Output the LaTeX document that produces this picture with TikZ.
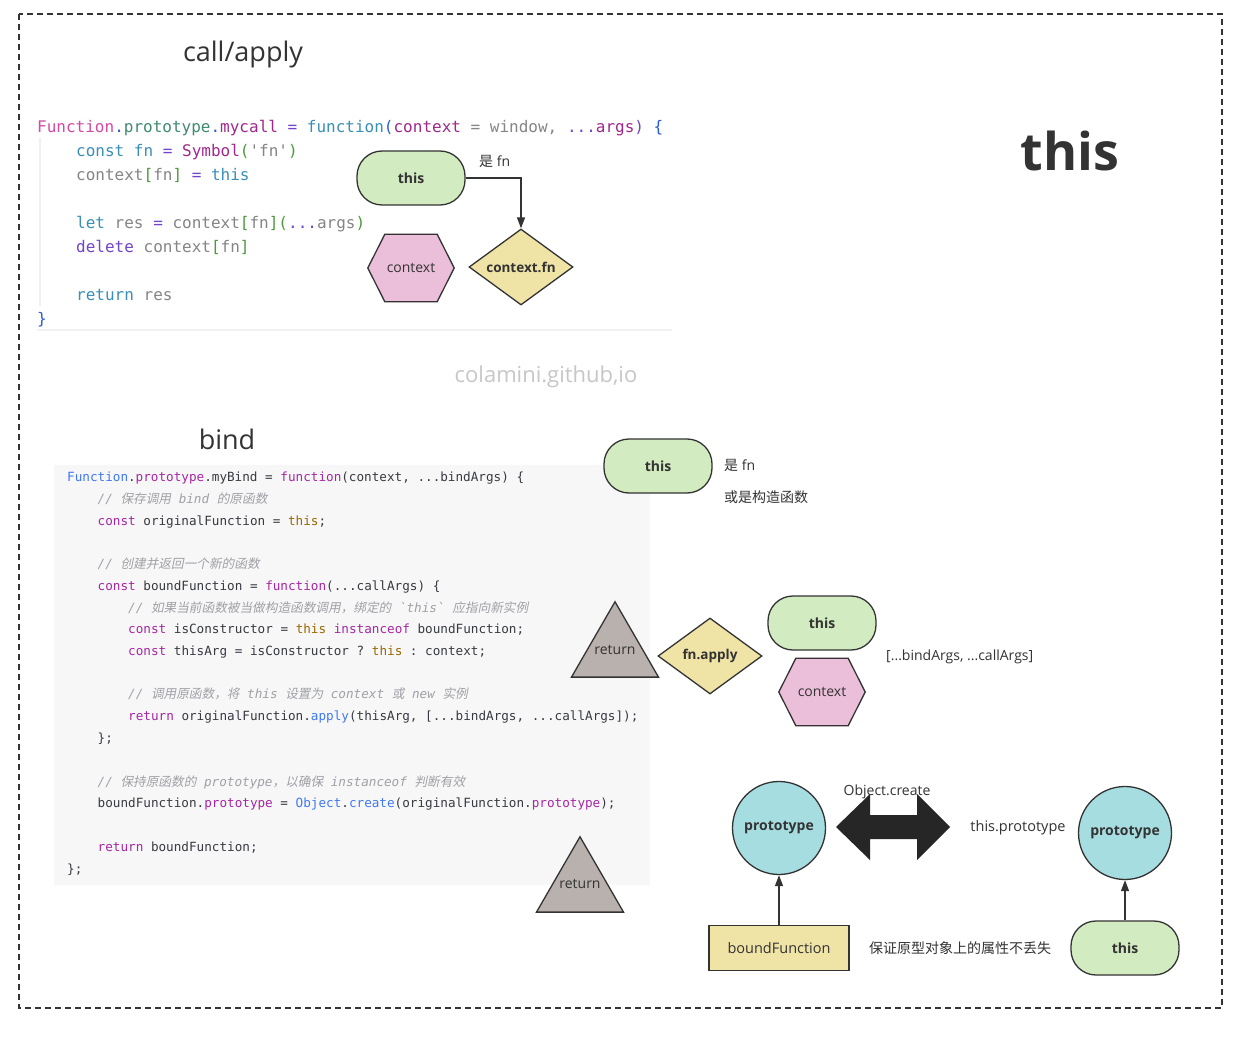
\documentclass[tikz,border=0pt]{standalone}
\usepackage{fontspec}
\setmainfont{Open Sans}
\setmonofont{DejaVu Sans Mono}
\newfontfamily\cjk{Noto Sans CJK SC}
\newfontfamily\cjkit{Noto Sans CJK SC}[FakeSlant=0.2]
\newcommand\semi{\bfseries}
\usetikzlibrary{arrows.meta,shapes.geometric,backgrounds}
\definecolor{dk}{HTML}{333333}
\definecolor{gfill}{HTML}{D3EBC0}
\definecolor{yfill}{HTML}{F0E3A6}
\definecolor{pfill}{HTML}{EBBFDA}
\definecolor{tfill}{HTML}{B9B1AD}
\definecolor{cfill}{HTML}{A6DDE0}
% code 1 colours
\definecolor{pk}{HTML}{D14BA4}
\definecolor{bl}{HTML}{2A5BD7}
\definecolor{gn}{HTML}{3F8A72}
\definecolor{mg}{HTML}{A0288C}
\definecolor{pu}{HTML}{7045C8}
\definecolor{tl}{HTML}{3A8FB7}
\definecolor{gy}{HTML}{858585}
\definecolor{br}{HTML}{4C9A3C}
% code 2 colours (one light)
\definecolor{ob}{HTML}{4078F2}
\definecolor{op}{HTML}{A626A4}
\definecolor{oy}{HTML}{986801}
\definecolor{od}{HTML}{383A42}
\definecolor{cm}{HTML}{A0A1A7}
\newcommand\fsz[1]{\fontsize{#1}{#1}\selectfont}
\newcommand\C[2]{\textcolor{#1}{#2}}
\newcommand\zh[1]{{\cjkit #1}}
\tikzset{
  x=1pt, y=-1pt,
  codeA/.style={anchor=base west, inner sep=0pt, font=\ttfamily\fsz{16}},
  codeB/.style={anchor=base west, inner sep=0pt, font=\ttfamily\fsz{12.65}, text=od},
  cmt/.style={codeB, text=cm, font=\ttfamily\itshape\fsz{12.65}},
  lbl/.style={inner sep=0pt, text=dk, font=\fsz{14}},
  stad/.style={draw=dk, line width=1.3pt, fill=gfill, rounded corners=25pt,
    minimum width=108pt, minimum height=54pt, inner sep=0pt, text=dk, font=\semi\fsz{14}},
  dia/.style={diamond, aspect=1.37, draw=dk, line width=1.3pt, fill=yfill,
    minimum width=104pt, minimum height=76pt, inner sep=0pt, text=dk, font=\semi\fsz{13.5}},
  hexn/.style={minimum width=86pt, minimum height=67pt, inner sep=0pt, text=dk, font=\fsz{14}},
  hexs/.style={draw=dk, line width=1.3pt, fill=pfill},
  tri/.style={regular polygon, regular polygon sides=3, draw=dk, line width=1.3pt, fill=tfill,
    minimum size=100.5pt, inner sep=0pt, text=dk, font=\fsz{14}},
  circ/.style={circle, draw=dk, line width=1.3pt, fill=cfill, minimum size=93pt,
    inner sep=0pt, text=dk, font=\semi\fsz{14}},
  conn/.style={draw=dk, line width=1.3pt, -{Triangle[length=11pt,width=8pt]}},
}
\newcommand\hexa[1]{%
  \begin{scope}[on background layer]
    \filldraw[hexs] (#1.west) -- ([xshift=17pt]#1.north west) -- ([xshift=-17pt]#1.north east)
      -- (#1.east) -- ([xshift=-17pt]#1.south east) -- ([xshift=17pt]#1.south west) -- cycle;
  \end{scope}}
\begin{document}
\begin{tikzpicture}
\useasboundingbox (0,0) rectangle (1244,1040);
\begin{scope}[on background layer]
\fill[white] (0,0) rectangle (1244,1040);
\fill[black!3] (54,465) rectangle (650,885);
\end{scope}
% frame
\draw[draw=dk, line width=1.3pt, dash pattern=on 6pt off 4pt] (19,14) rectangle (1222,1008);

% titles
\node[lbl, font=\fsz{27}] (tcall) at (243,54) {call/apply};
\node[lbl, font=\semi\fsz{52}] (tthis) at (1070,151) {this};
\node[lbl, font=\fsz{27}] (tbind) at (227,439) {bind};
\node[lbl, text=black!22, font=\fsz{22}] (wm) at (546,377) {colamini.github,io};

% ---------- code 1 ----------
\draw[draw=black!6, line width=1.2pt] (40,138) -- (40,306);
\draw[draw=black!5, line width=1.5pt] (37,330) -- (672,330);
\node[codeA] (a1) at (37,133) {\C{pk}{Function}\C{bl}{.}\C{gn}{prototype}\C{bl}{.}\C{mg}{mycall} \C{pu}{=} \C{tl}{function}\C{bl}{(}\C{mg}{context} \C{gy}{= window,} \C{pu}{...}\C{mg}{args}\C{pu}{)} \C{bl}{\{}};
\node[codeA] (a2) at (76,157) {\C{tl}{const} \C{tl}{fn} \C{pu}{=} \C{mg}{Symbol}\C{br}{(}\C{gy}{'fn'}\C{br}{)}};
\node[codeA] (a3) at (76,181) {\C{gy}{context}\C{br}{[}\C{gy}{fn}\C{br}{]} \C{pu}{=} \C{tl}{this}};
\node[codeA] (a4) at (76,229) {\C{tl}{let} \C{gy}{res} \C{pu}{=} \C{gy}{context}\C{br}{[}\C{gy}{fn}\C{br}{](}\C{pu}{...}\C{gy}{args}\C{br}{)}};
\node[codeA] (a5) at (76,253) {\C{pu}{delete} \C{gy}{context}\C{br}{[}\C{gy}{fn}\C{br}{]}};
\node[codeA] (a6) at (76,301) {\C{tl}{return} \C{gy}{res}};
\node[codeA] (a7) at (37,324) {\C{bl}{\}}};

% ---------- diagram 1 ----------
\node[stad] (th1) at (411,178) {this};
\node[dia] (cfn) at (521,267) {context.fn};
\node[hexn] (ctx1) at (411,268) {context};
\hexa{ctx1}
\draw[conn] (th1.east) -| (cfn.north);
\node[lbl, anchor=west] (isfn1) at (479,161) {{\cjk 是} fn};

% ---------- code 2 ----------
\node[codeB] (b1) at (67,481) {\C{ob}{Function}.\C{op}{prototype}.myBind = \C{op}{function}(context, ...bindArgs) \{};
\node[cmt] (b2) at (97.5,503) {// \zh{保存调用} bind \zh{的原函数}};
\node[codeB] (b3) at (97.5,525) {\C{op}{const} originalFunction = \C{oy}{this};};
\node[cmt] (b5) at (97.5,568) {// \zh{创建并返回一个新的函数}};
\node[codeB] (b6) at (97.5,590) {\C{op}{const} boundFunction = \C{op}{function}(...callArgs) \{};
\node[cmt] (b7) at (128,612) {// \zh{如果当前函数被当做构造函数调用，绑定的} `this` \zh{应指向新实例}};
\node[codeB] (b8) at (128,633) {\C{op}{const} isConstructor = \C{oy}{this} \C{op}{instanceof} boundFunction;};
\node[codeB] (b9) at (128,655) {\C{op}{const} thisArg = isConstructor ? \C{oy}{this} : context;};
\node[cmt] (b11) at (128,698) {// \zh{调用原函数，将} this \zh{设置为} context \zh{或} new \zh{实例}};
\node[codeB] (b12) at (128,720) {\C{op}{return} originalFunction.\C{ob}{apply}(thisArg, [...bindArgs, ...callArgs]);};
\node[codeB] (b13) at (97.5,742) {\};};
\node[cmt] (b15) at (97.5,786) {// \zh{保持原函数的} prototype\zh{，以确保} instanceof \zh{判断有效}};
\node[codeB] (b16) at (97.5,807) {boundFunction.\C{op}{prototype} = \C{ob}{Object}.\C{ob}{create}(originalFunction.\C{op}{prototype});};
\node[codeB] (b18) at (97.5,851) {\C{op}{return} boundFunction;};
\node[codeB] (b19) at (67,873) {\};};

% ---------- diagram 2 ----------
\node[stad] (th2) at (658,466) {this};
\node[lbl, anchor=west] (isfn2) at (724,465) {{\cjk 是} fn};
\node[lbl, anchor=west, font=\cjk\fsz{14}] (ctor) at (724,497) {或是构造函数};

\node[tri] (ret1) at (615,652) {};
\node[lbl] (ret1t) at (615,650) {return};
\node[dia] (fap) at (710,656) {fn.apply};
\node[stad] (th3) at (822,623) {this};
\node[hexn] (ctx2) at (822,692) {context};
\hexa{ctx2}
\node[lbl, anchor=west] (args) at (886,657) {[...bindArgs, ...callArgs]};

\node[tri] (ret2) at (580,887) {};
\node[lbl] (ret2t) at (580,884) {return};

% ---------- diagram 3 ----------
\node[circ] (pr1) at (779,828) {prototype};
\node[circ] (pr2) at (1125,833) {prototype};
\fill[black!85] (836,827) -- (870,794) -- (870,815) -- (917,815) -- (917,794) -- (950,827)
  -- (917,860) -- (917,839) -- (870,839) -- (870,860) -- cycle;
\node[lbl] (ocr) at (887,792) {Object.create};
\node[lbl, font=\fsz{14.5}] (tpr) at (1018,828) {this.prototype};
\node[draw=dk, line width=1.3pt, fill=yfill, minimum width=140pt, minimum height=45pt,
  inner sep=0pt, text=dk, font=\fsz{14.5}] (bf) at (779,948) {boundFunction};
\node[stad] (th4) at (1125,948) {this};
\node[lbl, font=\cjk\fsz{14}] (keep) at (960,948) {保证原型对象上的属性不丢失};
\draw[conn] (bf.north) -- (pr1.south);
\draw[conn] (th4.north) -- (pr2.south);
\end{tikzpicture}
\end{document}
